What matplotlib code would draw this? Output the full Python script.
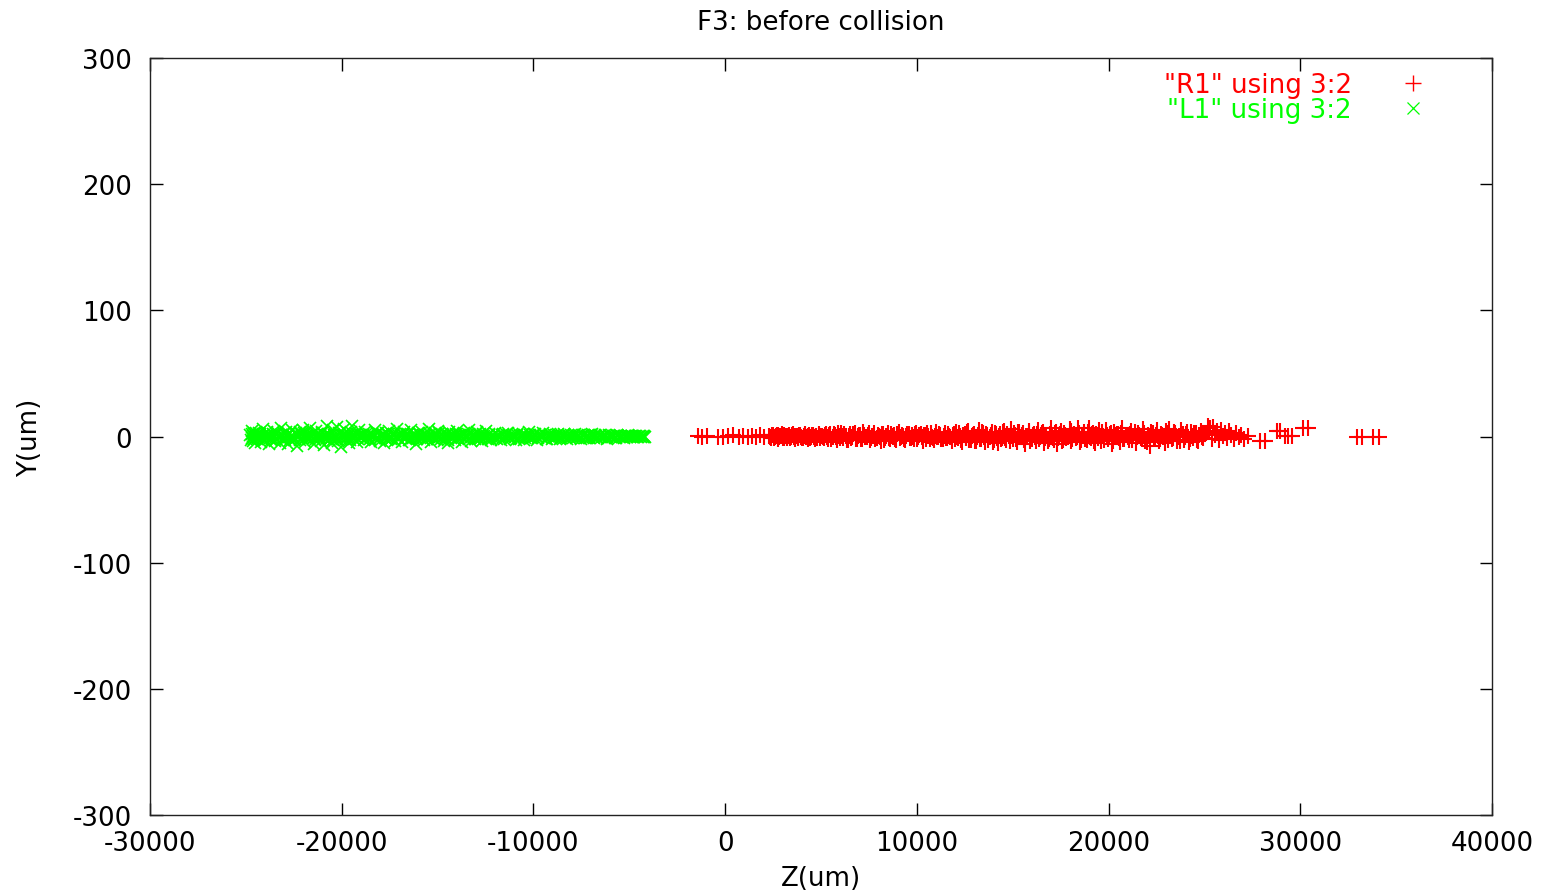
import numpy as np
import matplotlib
matplotlib.use("Agg")
import matplotlib.pyplot as plt
from matplotlib.lines import Line2D

plt.rcParams['font.family'] = ['DejaVu Sans']
plt.rcParams['axes.unicode_minus'] = False

# ---------------- data ----------------
title = "F3: before collision"
xlabel = "Z(um)"
ylabel = "Y(um)"
x_ticks = [-30000, -20000, -10000, 0, 10000, 20000, 30000, 40000]
y_ticks = [-300, -200, -100, 0, 100, 200, 300]
series_labels = ['"R1" using 3:2', '"L1" using 3:2']

# L1 (green, x markers)
l1_z_a = [-24700, -24620, -24760, -24690, -24600, -24530, -24450, -24370, -24280, -24200,
          -24130, -24040, -23960, -23880, -23800, -23720, -23640, -23550, -23470, -23390,
          -23310, -23220, -23150, -23060, -22980, -22900, -22820, -22740, -22650, -22570,
          -22490, -22410, -22330, -22240, -22160, -22080, -22000, -21920, -21830, -21750,
          -21670, -21590, -21500, -21420, -21340, -21260, -21180, -21090, -21010, -20930,
          -20850, -20760, -20680, -20600, -20520, -20440, -20350, -20270, -20190, -20110,
          -20020, -19940, -19860, -19770, -19690, -19610, -19530, -19440, -19360, -19280,
          -19200, -19110, -19030]
l1_y_a = [2.1, -3.4, 0.8, 4.6, -1.9, -5.2, 3.0, -0.6, 1.7, -4.1,
          5.8, -2.7, 0.3, 3.9, -6.3, 1.2, -1.1, 4.4, -3.6, 2.6,
          -0.2, -4.8, 6.7, 0.9, -2.4, 3.3, -5.9, 1.8, -0.9, 4.9,
          -3.1, 2.2, -7.4, 0.5, 3.6, -1.5, 5.3, -4.4, 1.0, -2.0,
          7.0, -0.4, 2.9, -5.6, 4.1, -1.3, 0.2, -3.8, 3.4, -6.8,
          1.5, 8.1, -2.6, 0.7, -4.9, 5.0, -0.8, 7.6, -3.2, 2.4,
          -8.0, 1.1, 6.2, -2.2, 0.4, -5.1, 3.7, 8.4, -1.6, 2.8,
          -4.5, 5.5, -0.1]
l1_z_a2 = [-24660, -24580, -24720, -24640, -24560, -24490, -24410, -24330, -24240, -24160,
           -24080, -24000, -23920, -23840, -23760, -23680, -23600, -23510, -23430, -23350,
           -23270, -23190, -23100, -23020, -22940, -22860, -22780, -22700, -22610, -22530,
           -22450, -22370, -22290, -22200, -22120, -22040, -21960, -21880, -21790, -21710,
           -21630, -21550, -21460, -21380, -21300, -21220, -21140, -21050, -20970, -20890,
           -20810, -20720, -20640, -20560, -20480, -20400, -20310, -20230, -20150, -20070,
           -19980, -19900, -19820, -19730, -19650, -19570, -19490, -19400, -19320, -19240,
           -19160, -19070]
l1_y_a2 = [-1.2, 2.4, -2.8, 0.6, 1.9, -0.3, -2.1, 2.9, 0.1, -1.6,
           1.3, -2.5, 0.8, 2.2, -0.9, -2.9, 1.6, 0.4, -1.8, 2.6,
           -0.5, 1.0, -2.3, 3.0, -1.1, 0.3, 2.0, -2.7, 1.4, -0.1,
           -1.9, 2.5, 0.7, -2.4, 1.7, -0.6, 2.8, -1.4, 0.2, -2.2,
           1.1, 2.3, -0.8, -2.6, 1.8, 0.0, -1.5, 2.7, -0.4, 1.2,
           -2.0, 0.9, 2.1, -1.3, -2.8, 1.5, 0.5, -1.7, 2.4, -0.2,
           -2.3, 1.9, 0.6, -1.0, 2.6, -2.5, 0.3, 1.4, -0.7, 2.0,
           -1.6, 0.8]
l1_z_b = [-18950, -18850, -18760, -18660, -18570, -18470, -18380, -18280, -18190, -18090,
          -18000, -17900, -17810, -17710, -17620, -17520, -17430, -17330, -17240, -17140,
          -17050, -16950, -16860, -16760, -16670, -16570, -16480, -16380, -16290, -16190,
          -16100, -16000, -15910, -15810, -15720, -15620, -15530, -15430, -15340, -15240,
          -15150, -15050, -14960, -14860, -14770, -14670, -14580, -14480, -14390, -14290,
          -14200, -14100, -14010, -13910, -13820, -13720, -13630, -13530, -13440, -13340,
          -13250, -13150, -13060, -12960, -12870, -12770, -12680, -12580, -12490, -12390,
          -12300, -12200, -12110]
l1_y_b = [1.4, -2.8, 3.9, -0.7, 2.3, -4.2, 0.6, 5.1, -1.8, 3.1,
          -3.5, 1.0, -5.4, 2.7, -0.3, 4.3, -2.1, 0.9, -3.9, 6.0,
          -1.2, 2.0, -4.6, 3.5, -0.5, 1.6, -2.9, 4.8, -1.4, 0.1,
          -5.8, 2.5, -0.9, 3.8, -3.0, 1.3, -1.7, 5.6, -4.0, 0.4,
          2.9, -2.3, 4.5, -0.6, 1.9, -3.7, 0.8, -5.0, 3.2, -1.0,
          2.1, -2.6, 4.0, -0.2, 1.5, -4.3, 2.6, -1.5, 0.7, 5.2,
          -3.3, 1.1, -2.0, 3.6, -0.8, 2.2, -3.8, 0.5, 4.2, -1.9,
          1.7, -2.4, 0.3]
l1_z_b2 = [-18900, -18800, -18710, -18610, -18520, -18420, -18330, -18230, -18140, -18040,
           -17950, -17850, -17760, -17660, -17570, -17470, -17380, -17280, -17190, -17090,
           -17000, -16900, -16810, -16710, -16620, -16520, -16430, -16330, -16240, -16140,
           -16050, -15950, -15860, -15760, -15670, -15570, -15480, -15380, -15290, -15190,
           -15100, -15000, -14910, -14810, -14720, -14620, -14530, -14430, -14340, -14240,
           -14150, -14050, -13960, -13860, -13770, -13670, -13580, -13480, -13390, -13290,
           -13200, -13100, -13010, -12910, -12820, -12720, -12630, -12530, -12440, -12340,
           -12250, -12150]
l1_y_b2 = [0.9, -1.7, 2.2, -0.4, -2.3, 1.3, 0.2, -1.1, 2.5, -2.0,
           0.6, 1.6, -0.8, -2.4, 1.9, 0.0, -1.4, 2.3, -0.6, 1.0,
           -2.1, 0.4, 2.0, -1.5, -0.2, 1.7, -2.5, 0.8, 1.2, -0.9,
           -1.9, 2.4, 0.3, -1.2, 1.5, -2.2, 0.7, 2.1, -0.5, -1.6,
           1.1, -0.1, 2.4, -2.0, 0.5, -1.0, 1.8, -2.4, 0.1, 1.4,
           -0.7, 2.2, -1.8, 0.9, -0.3, 1.6, -2.1, 0.2, 2.0, -1.3,
           0.6, -0.6, 1.9, -2.3, 1.0, -0.9, 2.3, -1.5, 0.4, 1.3,
           -1.1, 0.0]
l1_z_c = [-12010, -11900, -11790, -11670, -11570, -11460, -11350, -11240, -11130, -11020,
          -10910, -10800, -10690, -10580, -10490, -10360, -10250, -10140, -10030, -9920,
          -9810, -9700, -9590, -9480, -9350, -9260, -9150, -9040, -8930, -8820,
          -8710, -8600, -8490, -8400, -8270, -8160, -8050, -7940, -7830, -7720,
          -7610, -7500, -7370, -7280, -7170, -7060, -6950, -6840, -6730, -6640,
          -6510, -6400, -6290, -6180, -6070, -5960, -5850, -5740, -5630, -5500,
          -5410, -5300, -5190, -5080, -4970, -4860, -4750, -4660, -4530, -4420,
          -4310, -4250, -4200]
l1_y_c = [2.4, -1.6, 0.7, -2.9, 1.9, -0.4, 3.1, -2.2, 0.2, 1.4,
          -3.0, 2.6, -0.8, 1.1, -2.5, 0.5, 3.4, -1.3, -0.1, 2.0,
          -2.7, 1.2, -0.6, 2.8, -1.9, 0.3, 1.6, -2.3, 0.9, -0.5,
          2.2, -1.7, 0.6, 1.8, -2.0, 0.0, 1.3, -1.4, 2.1, -0.7,
          0.8, -1.8, 1.5, -0.3, 1.0, -1.5, 1.9, -0.9, 0.4, -1.2,
          1.4, -0.6, 0.9, -1.6, 1.1, -0.2, 0.6, -1.0, 1.3, -0.4,
          0.7, -0.9, 0.5, 0.9, -0.7, 0.3, -0.5, 0.6, -0.3, 0.4,
          -0.2, 0.1, 0.0]
l1_z_c2 = [-11955, -11845, -11735, -11620, -11515, -11405, -11295, -11185, -11075, -10965,
           -10855, -10745, -10635, -10535, -10425, -10305, -10195, -10085, -9975, -9865,
           -9755, -9645, -9535, -9415, -9305, -9205, -9095, -8985, -8875, -8765,
           -8655, -8545, -8445, -8335, -8215, -8105, -7995, -7885, -7775, -7665,
           -7555, -7435, -7325, -7225, -7115, -7005, -6895, -6785, -6685, -6575,
           -6455, -6345, -6235, -6125, -6015, -5905, -5795, -5685, -5565, -5455,
           -5355, -5245, -5135, -5025, -4915, -4805, -4705, -4595, -4475, -4365,
           -4280, -4230]
l1_y_c2 = [-1.0, 1.5, -0.3, 0.9, -1.7, 1.8, 0.2, -1.3, 0.6, -0.7,
           1.2, -1.8, 0.4, 1.6, -0.9, -0.1, 1.0, -1.5, 1.7, 0.3,
           -1.1, 0.8, -0.4, 1.4, -1.6, 0.5, 1.1, -0.8, -1.4, 1.3,
           0.1, -1.2, 0.7, -0.6, 1.5, -1.0, 0.2, 1.2, -1.3, 0.6,
           -0.2, 1.0, -1.1, 0.4, -0.8, 1.1, -0.5, 0.9, -1.0, 0.3,
           0.8, -0.7, 0.5, -0.9, 0.7, -0.3, 0.6, -0.8, 0.2, 0.7,
           -0.5, 0.4, -0.6, 0.3, 0.5, -0.4, 0.2, -0.3, 0.3, -0.1,
           0.2, -0.2]

# R1 (red, + markers)
r1_z_a = [-1410, -1200, -940, -370, -110, 150, 420, 730, 940, 1200, 1410, 1620, 1820, 2030]
r1_y_a = [0.3, -0.4, 0.5, 0.0, -0.6, 0.4, 0.8, -0.3, 0.2, -0.7, 0.6, -0.2, 1.0, -0.5]
r1_z_b = [2300, 2390, 2480, 2600, 2690, 2770, 2880, 2960, 3050, 3170,
          3250, 3340, 3450, 3530, 3620, 3740, 3820, 3910, 4020, 4100,
          4190, 4300, 4390, 4470, 4580, 4670, 4760, 4870, 4950, 5040,
          5160, 5250]
r1_y_b = [0.6, -1.2, 1.4, -0.3, 0.9, -1.6, 0.2, 1.7, -0.8, 0.5,
          -1.4, 1.1, -0.1, 2.0, -1.9, 0.7, -0.5, 1.5, -1.1, 0.3,
          2.2, -1.7, 0.8, -0.2, 1.3, -2.1, 0.4, 1.9, -0.9, 0.1,
          -1.5, 2.3]
r1_z_b2 = [2345, 2435, 2525, 2645, 2735, 2815, 2925, 3005, 3095, 3215,
           3295, 3385, 3495, 3575, 3665, 3785, 3865, 3955, 4065, 4145,
           4235, 4345, 4435, 4515, 4625, 4715, 4805, 4915, 4995, 5085,
           5205, 5295]
r1_y_b2 = [-0.4, 0.9, -1.1, 0.2, 1.3, -0.7, 0.5, -1.3, 1.0, -0.2,
           0.7, -0.9, 1.2, -0.5, 0.3, -1.2, 1.1, 0.0, -0.8, 1.4,
           -0.3, 0.6, -1.0, 1.3, -0.6, 0.4, -1.4, 0.8, 0.1, -0.7,
           1.2, -0.4]
r1_z_c = [5370, 5480, 5600, 5710, 5830, 5940, 6060, 6170, 6290, 6400,
          6520, 6630, 6750, 6860, 6980, 7090, 7210, 7320, 7440, 7550,
          7670, 7780, 7900, 8010, 8130, 8240, 8360, 8470, 8590, 8700,
          8820, 8930, 9050, 9160, 9280, 9390, 9510, 9620, 9740, 9850,
          9970, 10080, 10200, 10310, 10430, 10540, 10660, 10770, 10890, 11000,
          11120, 11230, 11350, 11460, 11580, 11690, 11810, 11920]
r1_y_c = [-1.8, 2.1, -0.4, 1.2, -2.6, 0.7, 2.9, -1.1, 0.3, -3.0,
          1.8, -0.6, 2.4, -1.9, 0.9, -2.3, 3.3, -0.2, 1.5, -2.8,
          0.5, 2.7, -1.4, 0.1, -3.4, 1.9, -0.9, 3.1, -2.0, 0.6,
          1.4, -2.5, 3.6, -0.7, 0.2, -3.1, 2.2, -1.2, 1.0, -2.1,
          3.0, -0.3, 1.7, -3.7, 0.8, 2.5, -1.6, 0.0, -2.7, 3.5,
          -0.5, 1.3, -2.2, 2.8, -1.0, 0.4, -3.3, 2.0]
r1_z_c2 = [5425, 5535, 5655, 5765, 5885, 5995, 6115, 6225, 6345, 6455,
           6575, 6685, 6805, 6915, 7035, 7145, 7265, 7375, 7495, 7605,
           7725, 7835, 7955, 8065, 8185, 8295, 8415, 8525, 8645, 8755,
           8875, 8985, 9105, 9215, 9335, 9445, 9565, 9675, 9795, 9905,
           10025, 10135, 10255, 10365, 10485, 10595, 10715, 10825, 10945, 11055,
           11175, 11285, 11405, 11515, 11635, 11745, 11865, 11975]
r1_y_c2 = [0.8, -2.0, 1.6, -0.5, 2.4, -1.3, 0.1, 1.9, -2.4, 0.6,
           -0.9, 2.2, -1.7, 0.4, 1.2, -2.2, 0.9, -0.2, 2.5, -1.0,
           0.3, -1.9, 1.5, -0.6, 2.0, -2.5, 0.7, -1.2, 1.8, -0.1,
           -1.6, 2.3, -0.8, 1.1, -2.1, 0.5, 1.7, -1.4, 0.0, 2.1,
           -1.8, 0.9, -0.4, 1.4, -2.3, 0.2, 2.4, -1.1, 0.7, -0.7,
           1.9, -2.0, 0.4, -1.5, 2.2, -0.3, 1.0, -1.9]
r1_z_d = [12030, 12140, 12250, 12360, 12490, 12580, 12690, 12800, 12910, 13020,
          13130, 13240, 13350, 13460, 13550, 13680, 13790, 13900, 14010, 14120,
          14230, 14340, 14450, 14560, 14670, 14800, 14890, 15000, 15110, 15220,
          15330, 15440, 15550, 15660, 15770, 15860, 15990, 16100, 16210, 16320,
          16430, 16540, 16650, 16760, 16870, 17000, 17090, 17200, 17310, 17420,
          17530, 17640, 17750, 17860, 17970, 18060, 18190, 18300, 18410, 18520,
          18630, 18740, 18850, 18960, 19070, 19200, 19290, 19400, 19510, 19620,
          19730, 19840, 19950, 20060, 20170, 20260, 20390, 20500, 20610, 20720,
          20830, 20940]
r1_y_d = [3.2, -1.5, 0.4, -4.1, 2.3, -0.8, 4.6, -2.7, 1.1, -3.5,
          0.0, 5.0, -1.9, 2.8, -4.6, 0.9, -0.3, 3.7, -2.4, 1.6,
          -5.2, 2.0, -1.0, 4.3, -3.0, 0.6, 6.1, -2.1, 1.3, -4.4,
          3.4, -0.6, 2.5, -5.6, 0.2, 4.0, -1.7, 1.8, -3.3, 5.4,
          -0.4, 2.9, -4.8, 1.0, -2.2, 6.4, -1.2, 3.1, -5.9, 0.7,
          4.7, -2.9, 1.5, -0.1, 5.8, -3.8, 2.2, -1.4, 7.0, -4.2,
          0.5, 3.6, -2.5, 6.6, -0.9, 2.6, -5.0, 1.2, 4.9, -3.2,
          0.3, 5.5, -1.8, 2.1, -6.2, 3.9, -0.7, 1.9, -4.5, 6.8,
          -2.0, 0.8]
r1_z_d2 = [12085, 12195, 12305, 12415, 12545, 12635, 12745, 12855, 12965, 13075,
           13185, 13295, 13405, 13515, 13605, 13735, 13845, 13955, 14065, 14175,
           14285, 14395, 14505, 14615, 14725, 14855, 14945, 15055, 15165, 15275,
           15385, 15495, 15605, 15715, 15825, 15915, 16045, 16155, 16265, 16375,
           16485, 16595, 16705, 16815, 16925, 17055, 17145, 17255, 17365, 17475,
           17585, 17695, 17805, 17915, 18025, 18115, 18245, 18355, 18465, 18575,
           18685, 18795, 18905, 19015, 19125, 19255, 19345, 19455, 19565, 19675,
           19785, 19895, 20005, 20115, 20225, 20315, 20445, 20555, 20665, 20775,
           20885, 20995]
r1_y_d2 = [-0.6, 2.6, -3.1, 1.4, -1.2, 3.8, -2.5, 0.3, 1.9, -3.7,
           0.8, -1.6, 3.2, -0.2, 2.1, -2.9, 1.0, -4.0, 2.7, -0.9,
           0.5, -2.3, 3.5, -1.4, 1.7, -3.4, 0.2, 2.4, -1.9, 3.9,
           -0.7, 1.2, -2.6, 0.6, 3.0, -3.9, 1.5, -0.3, 2.2, -2.0,
           0.9, 3.6, -1.1, -3.2, 2.0, 0.1, -2.4, 3.3, -0.8, 1.6,
           -3.6, 2.5, -1.3, 0.4, 4.0, -2.2, 1.1, -0.5, 2.8, -3.0,
           0.7, -1.8, 3.4, -0.1, 1.8, -3.5, 2.3, -1.0, 0.3, 3.7,
           -2.7, 1.3, -0.4, 2.9, -3.8, 0.6, 2.0, -1.5, 3.1, -2.1,
           0.9, -0.2]
r1_z_e = [21050, 21170, 21300, 21420, 21550, 21670, 21800, 21920, 22050, 22170,
          22300, 22420, 22550, 22670, 22800, 22920, 23050, 23170, 23300, 23420,
          23550, 23670, 23800, 23920, 24050, 24170, 24300, 24420, 24550, 24670,
          24800, 24920]
r1_y_e = [-2.6, 4.1, 0.2, -4.9, 2.7, -1.1, 5.6, -3.4, 1.4, -7.2,
          3.0, -0.5, 4.8, -2.3, 0.9, -5.5, 2.4, 6.0, -1.6, 3.5,
          -3.9, 0.6, 5.1, -2.8, 1.8, -4.3, 3.8, -0.8, 2.9, -3.6,
          4.5, -1.4]
r1_z_e2 = [21110, 21230, 21360, 21480, 21610, 21730, 21860, 21980, 22110, 22230,
           22360, 22480, 22610, 22730, 22860, 22980, 23110, 23230, 23360, 23480,
           23610, 23730, 23860, 23980, 24110, 24230, 24360, 24480, 24610, 24730,
           24860, 24980]
r1_y_e2 = [1.7, -3.0, 3.3, -0.4, 0.9, -2.1, 2.6, -4.1, 0.3, 3.9,
           -1.5, 1.2, -3.3, 2.2, -0.2, 4.2, -2.6, 0.7, -1.2, 2.9,
           0.0, -3.7, 1.9, -0.7, 3.4, -1.9, 0.5, 2.4, -2.9, 1.1,
           -0.5, 3.0]
r1_z_f = [25080, 25200, 25290, 25380, 25470, 25560, 25650, 25760, 25850, 25950,
          26060, 26170, 26280, 26400, 26520, 26650, 26780, 26920, 27080, 27250]
r1_y_f = [2.5, 8.0, 6.9, -2.0, 7.5, 1.0, 4.2, -3.0, 5.5, 0.4,
          3.1, -1.5, 4.0, 0.9, -2.2, 2.8, -0.6, 1.5, -1.8, 0.5]
r1_z_g = [27910, 28170, 28800, 28950, 29210, 29370, 29580, 30150, 30410,
          32970, 33230, 33800, 34120]
r1_y_g = [-3.3, -3.3, 4.6, 4.6, 0.6, 0.6, 0.6, 6.7, 6.7,
          -0.7, -0.7, 0.0, 0.0]

l1_z = np.concatenate([l1_z_a, l1_z_a2, l1_z_b, l1_z_b2, l1_z_c, l1_z_c2])
l1_y = np.concatenate([l1_y_a, l1_y_a2, l1_y_b, l1_y_b2, l1_y_c, l1_y_c2])
r1_z = np.concatenate([r1_z_a, r1_z_b, r1_z_b2, r1_z_c, r1_z_c2, r1_z_d, r1_z_d2,
                       r1_z_e, r1_z_e2, r1_z_f, r1_z_g])
r1_y = np.concatenate([r1_y_a, r1_y_b, r1_y_b2, r1_y_c, r1_y_c2, r1_y_d, r1_y_d2,
                       r1_y_e, r1_y_e2, r1_y_f, r1_y_g])

# ---------------- styling ----------------
RED = '#ff0000'
GREEN = '#00ff00'
FS = 18.8

fig = plt.figure(figsize=(15.46, 8.95), dpi=100)
ax = fig.add_axes([150 / 1546, 1 - 816 / 895, (1492 - 150) / 1546, (816 - 59) / 895])

ax.plot(r1_z, r1_y, linestyle='none', marker='+', markersize=11,
        markeredgewidth=1.5, color=RED, label=series_labels[0])
ax.plot(l1_z, l1_y, linestyle='none', marker='x', markersize=8,
        markeredgewidth=1.2, color=GREEN, label=series_labels[1])

ax.set_xlim(-30000, 40000)
ax.set_ylim(-300, 300)
ax.set_xticks(x_ticks)
ax.set_yticks(y_ticks)
ax.tick_params(axis='both', which='major', direction='in', length=9, width=1,
               top=True, right=True, labelsize=FS, colors='black')
ax.tick_params(axis='y', pad=13)
ax.tick_params(axis='x', pad=11)
for s in ax.spines.values():
    s.set_linewidth(1)
    s.set_color('#222222')

ax.set_title(title, fontsize=FS, pad=21)
ax.set_xlabel(xlabel, fontsize=FS, labelpad=6)
ax.set_ylabel(ylabel, fontsize=FS, labelpad=21)

handles = [Line2D([], [], linestyle='none', marker='+', markersize=12, markeredgewidth=1.0, color=RED),
           Line2D([], [], linestyle='none', marker='x', markersize=9, markeredgewidth=0.9, color=GREEN)]
ax.legend(handles, series_labels, loc='upper right', bbox_to_anchor=(0.9589, 0.995),
          frameon=False, markerfirst=False, fontsize=FS, labelcolor=[RED, GREEN],
          handlelength=1.0, handletextpad=1.85, labelspacing=-0.05, borderaxespad=0.0)

fig.savefig('out.png', dpi=100)
